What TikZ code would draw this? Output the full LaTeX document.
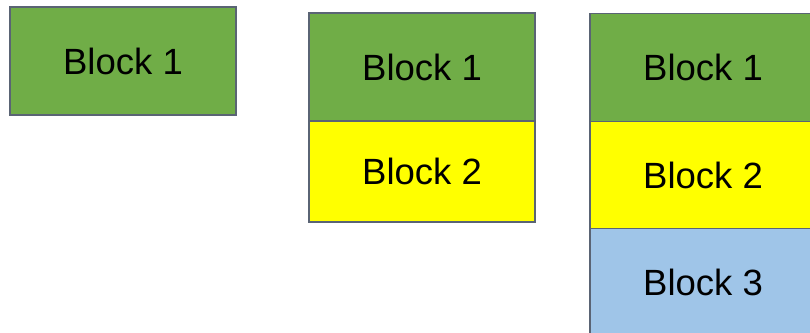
\documentclass[tikz,border=0pt]{standalone}
\usepackage{fontspec}
\setmainfont{Liberation Sans}
\usetikzlibrary{positioning}
\definecolor{edge}{HTML}{5A6474}
\definecolor{leaf}{HTML}{70AD47}
\definecolor{sun}{HTML}{FFFF00}
\definecolor{sky}{HTML}{9FC5E8}
\tikzset{
  blk/.style={draw=edge, line width=1.5pt, outer sep=0pt, minimum width=226pt,
    minimum height=108pt, inner sep=0pt, font=\fontsize{36.5}{40}\selectfont},
  one/.style={blk, fill=leaf},
  two/.style={blk, fill=sun},
  three/.style={blk, fill=sky},
}
\begin{document}
\begin{tikzpicture}[x=1pt, y=-1pt]
  \useasboundingbox (0,0) rectangle (810,332);
  % single block
  \node[one] (a1) at (123,61) {Block 1};
  % two blocks
  \node[one] (b1) at (422,67) {Block 1};
  \node[two, minimum height=101pt, below=0pt of b1] (b2) {Block 2};
  % three blocks
  \node[one] (c1) at (703,67.5) {Block 1};
  \node[two, minimum height=107pt, below=0pt of c1] (c2) {Block 2};
  \node[three, minimum height=107pt, below=0pt of c2] (c3) {Block 3};
\end{tikzpicture}
\end{document}
